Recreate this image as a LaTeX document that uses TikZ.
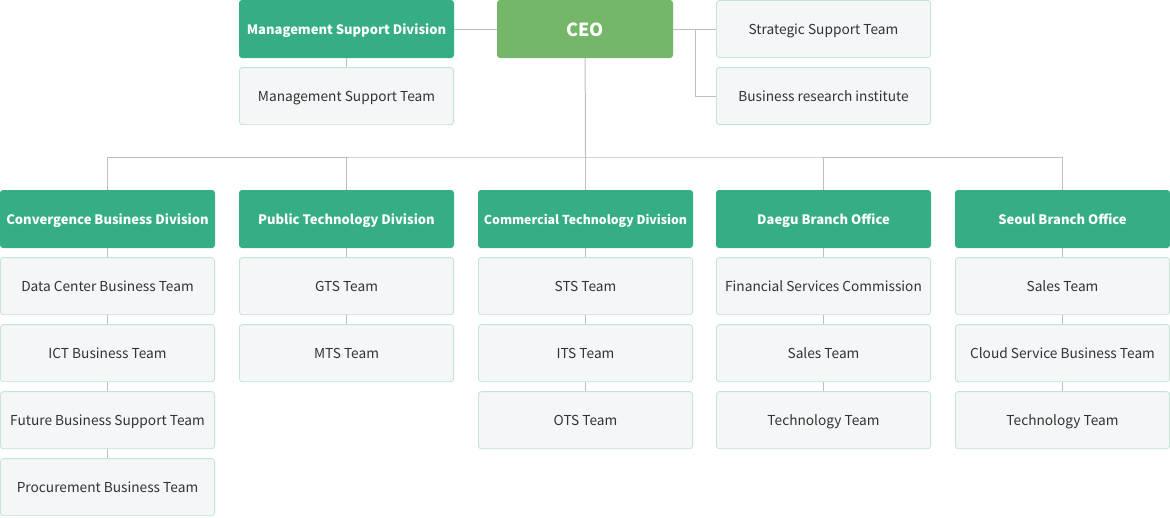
\documentclass[tikz,border=0pt]{standalone}
\usepackage{fontspec}
\setmainfont{Noto Sans CJK KR}
\usepackage{tikz}
\usetikzlibrary{positioning}
\definecolor{divgreen}{RGB}{53,174,133}
\definecolor{ceogreen}{RGB}{116,183,104}
\definecolor{teamfill}{RGB}{244,246,247}
\definecolor{teamline}{RGB}{196,228,214}
\definecolor{linkgray}{RGB}{190,190,190}
\definecolor{teamtext}{RGB}{51,51,51}
\tikzstyle{divbox} = [rectangle, rounded corners=3pt, fill=divgreen, draw=none,
minimum width=215pt, minimum height=58pt, inner sep=0pt,
text height=10.5pt, text depth=0pt,
text=white, font=\fontsize{13}{15}\selectfont\bfseries]
\tikzstyle{ceobox} = [divbox, fill=ceogreen, minimum width=176pt,
text height=14pt, font=\fontsize{18}{20}\selectfont\bfseries]
\tikzstyle{teambox} = [rectangle, rounded corners=3pt, fill=teamfill, draw=teamline,
line width=0.8pt, minimum width=214.2pt, minimum height=57.2pt, inner sep=0pt,
text height=11pt, text depth=0pt,
text=teamtext, font=\fontsize{13.7}{16}\selectfont]
\tikzstyle{link} = [draw=linkgray, line width=1pt]

\begin{document}
\begin{tikzpicture}[x=1pt, y=1pt, node distance=9pt]
    \useasboundingbox (0,0) rectangle (1170,-517);

    % top row
    \node (ceo) [ceobox] at (585,-29) {CEO};
    \node (msd) [divbox] at (346.5,-29) {Management Support Division};
    \node (mst) [teambox, below=of msd] {Management Support Team};
    \node (sst) [teambox] at (823.5,-29) {Strategic Support Team};
    \node (bri) [teambox, below=of sst] {Business research institute};

    \draw[link] (msd) -- (ceo);
    \draw[link] (msd) -- (mst);
    \draw[link] (ceo) -- (sst);
    \draw[link] ([xshift=22pt]ceo.east) |- (bri);

    % divisions
    \node (cbd) [divbox] at (107.5,-219) {Convergence Business Division};
    \node (ptd) [divbox] at (346.5,-219) {Public Technology Division};
    \node (ctd) [divbox, font=\fontsize{12.3}{15}\selectfont\bfseries]
        at (585.5,-219) {Commercial Technology Division};
    \node (dbo) [divbox] at (823.5,-219) {Daegu Branch Office};
    \node (sbo) [divbox] at (1062.5,-219) {Seoul Branch Office};

    \coordinate (bus) at (585.5,-157);
    \draw[link] (ceo) -- (bus);
    \draw[link] (cbd.north) |- (bus) -| (sbo.north);
    \foreach \d in {ptd, ctd, dbo}
        \draw[link] (\d.north) -- (\d.north |- bus);

    % convergence teams
    \node (dcb) [teambox, below=of cbd] {Data Center Business Team};
    \node (ict) [teambox, below=of dcb] {ICT Business Team};
    \node (fbs) [teambox, below=of ict] {Future Business Support Team};
    \node (pbt) [teambox, below=of fbs] {Procurement Business Team};

    % public technology teams
    \node (gts) [teambox, below=of ptd] {GTS Team};
    \node (mts) [teambox, below=of gts] {MTS Team};

    % commercial technology teams
    \node (sts) [teambox, below=of ctd] {STS Team};
    \node (its) [teambox, below=of sts] {ITS Team};
    \node (ots) [teambox, below=of its] {OTS Team};

    % daegu teams
    \node (fsc) [teambox, below=of dbo] {Financial Services Commission};
    \node (dsa) [teambox, below=of fsc] {Sales Team};
    \node (dte) [teambox, below=of dsa] {Technology Team};

    % seoul teams
    \node (ssa) [teambox, below=of sbo] {Sales Team};
    \node (csb) [teambox, below=of ssa] {Cloud Service Business Team};
    \node (ste) [teambox, below=of csb] {Technology Team};

    \foreach \a/\b in {cbd/dcb, dcb/ict, ict/fbs, fbs/pbt, ptd/gts, gts/mts,
        ctd/sts, sts/its, its/ots, dbo/fsc, fsc/dsa, dsa/dte,
        sbo/ssa, ssa/csb, csb/ste}
        \draw[link] (\a) -- (\b);
\end{tikzpicture}
\end{document}
